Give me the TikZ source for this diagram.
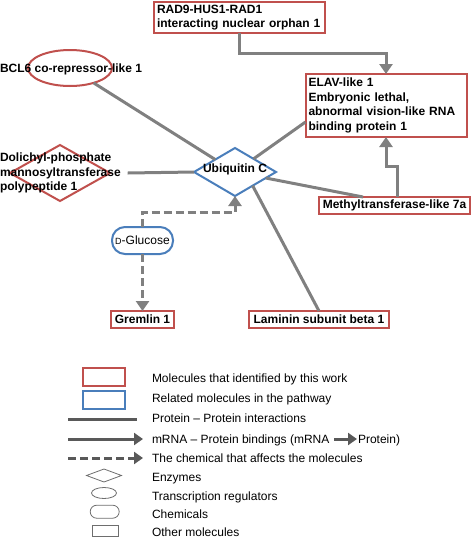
\documentclass[tikz,border=0pt]{standalone}
\usepackage{fontspec}
\setmainfont{Liberation Sans}
\usetikzlibrary{shapes.geometric,arrows.meta,calc}
\definecolor{myred}{RGB}{192,80,77}
\definecolor{myblue}{RGB}{74,126,187}
\definecolor{edgegray}{RGB}{128,128,128}
\definecolor{leggray}{RGB}{89,89,89}
\definecolor{shapegray}{RGB}{110,110,110}
\begin{document}
\begin{tikzpicture}[x=1pt,y=-1pt,
  every node/.style={inner sep=0pt, outer sep=0pt},
  lbl/.style={font=\fontsize{12}{14.5}\selectfont\bfseries},
  legtext/.style={font=\fontsize{12}{14.5}\selectfont, anchor=base west},
  molbox/.style={rectangle, draw=myred, line width=2pt, fill=white, lbl},
  ppi/.style={draw=edgegray, line width=3pt},
  mrna/.style={draw=edgegray, line width=3pt, -{Triangle[width=13pt,length=10pt]}},
  chemarr/.style={draw=edgegray, line width=3pt, dash pattern=on 8pt off 4pt, -{Triangle[width=13pt,length=10pt]}},
  legline/.style={draw=leggray, line width=3pt},
  legarrow/.style={draw=leggray, line width=3pt, -{Triangle[width=12pt,length=9pt]}},
  legdash/.style={draw=leggray, line width=3pt, dash pattern=on 8pt off 4pt, -{Triangle[width=12pt,length=9pt]}},
  legshape/.style={draw=shapegray, line width=0.8pt}
]
\useasboundingbox (0,0) rectangle (473,539);

% main nodes
\node[molbox, minimum width=171pt, minimum height=31pt, text width=165pt, align=left] (rad9) at (239.5,17.5) {RAD9-HUS1-RAD1\\interacting nuclear orphan 1};
\node[molbox, minimum width=161pt, minimum height=63pt, text width=155pt, align=left] (elav) at (386,105.5) {ELAV-like 1\\Embryonic lethal,\\abnormal vision-like RNA\\binding protein 1};
\node[molbox, minimum width=151pt, minimum height=17pt] (mettl) at (394.5,205.5) {Methyltransferase-like 7a};
\node[molbox, minimum width=140pt, minimum height=17pt] (lamb) at (319,319.5) {Laminin subunit beta 1};
\node[molbox, minimum width=63pt, minimum height=17pt] (grem) at (142.5,319.5) {Gremlin 1};
\node[draw=myblue, line width=2pt, fill=white, rounded corners=13pt, minimum width=61pt, minimum height=27pt, font=\fontsize{12}{14}\selectfont] (glu) at (142.5,240.5) {{\fontsize{9}{9}\selectfont D}-Glucose};
\node[diamond, draw=myblue, line width=2pt, fill=white, minimum width=82pt, minimum height=48pt, lbl] (ubc) at (235,172) {\makebox[20pt]{\smash{Ubiquitin C}}};
\node[ellipse, draw=myred, line width=2pt, minimum width=84pt, minimum height=36pt] (bcl6) at (70,68) {};
\node[lbl, anchor=west] (bcl6t) at (0,69) {BCL6 co-repressor-like 1};
\node[diamond, draw=myred, line width=2pt, minimum width=100pt, minimum height=56pt] (dpm) at (60,173) {};
\node[lbl, anchor=west, align=left] (dpmt) at (0,173) {Dolichyl-phosphate\\mannosyltransferase\\polypeptide 1};

% connectors
\draw[ppi] (bcl6) -- (ubc);
\draw[ppi] ($(dpmt.east)+(7,0)$) -- (ubc.west);
\draw[ppi] (ubc) -- ($(elav.west)+(0,16.5)$);
\draw[ppi] (ubc) -- ($(mettl.north west)+(44,0)$);
\draw[ppi] ($(ubc.south)!0.43!(ubc.east)$) -- (lamb.north);
\draw[mrna] (rad9.south) |- ($(elav.north)+(0,-21)$) -- (elav.north);
\draw[mrna] ($(mettl.north)+(2.5,0)$) -- ++(0,-31) -| (elav.south);
\draw[chemarr] (glu.north) |- ($(ubc.south)+(0,16)$) -- (ubc.south);
\draw[chemarr] (glu.south) -- (grem.north);

% legend
\node[draw=myred, line width=1.5pt, minimum width=42pt, minimum height=18pt] (lgr) at (104,377) {};
\node[draw=myblue, line width=1.5pt, minimum width=42pt, minimum height=18pt] (lgb) at (104,400) {};
\coordinate (l1a) at (68,419); \coordinate (l1b) at (137,419);
\coordinate (l2a) at (68,439); \coordinate (l2b) at (143,439);
\coordinate (l3a) at (68,458); \coordinate (l3b) at (143,458);
\draw[legline] (l1a) -- (l1b);
\draw[legarrow] (l2a) -- (l2b);
\draw[legdash] (l3a) -- (l3b);
\node[diamond, legshape, minimum width=35pt, minimum height=13pt] (lgd) at (104,475.5) {};
\node[ellipse, legshape, minimum width=25pt, minimum height=11pt] (lge) at (104,493) {};
\node[legshape, rounded corners=6.5pt, minimum width=29pt, minimum height=13pt] (lgc) at (104.7,511.7) {};
\node[legshape, minimum width=26pt, minimum height=11pt] (lgo) at (105,531) {};

\node[legtext] (t1) at (152,382.5) {Molecules that identified by this work};
\node[legtext] (t2) at (152,402.5) {Related molecules in the pathway};
\node[legtext] (t3) at (152,422.5) {Protein – Protein interactions};
\node[legtext] (t4a) at (152,443.5) {mRNA – Protein bindings (mRNA};
\node[legtext] (t4b) at (358,443.5) {Protein)};
\draw[legarrow] ($(t4a.base east)+(5,-4.5)$) -- ($(t4b.base west)+(-1,-4.5)$);
\node[legtext] (t5) at (152,462.5) {The chemical that affects the molecules};
\node[legtext] (t6) at (152,481.5) {Enzymes};
\node[legtext] (t7) at (152,500.5) {Transcription regulators};
\node[legtext] (t8) at (152,518.5) {Chemicals};
\node[legtext] (t9) at (152,536.5) {Other molecules};
\end{tikzpicture}
\end{document}
